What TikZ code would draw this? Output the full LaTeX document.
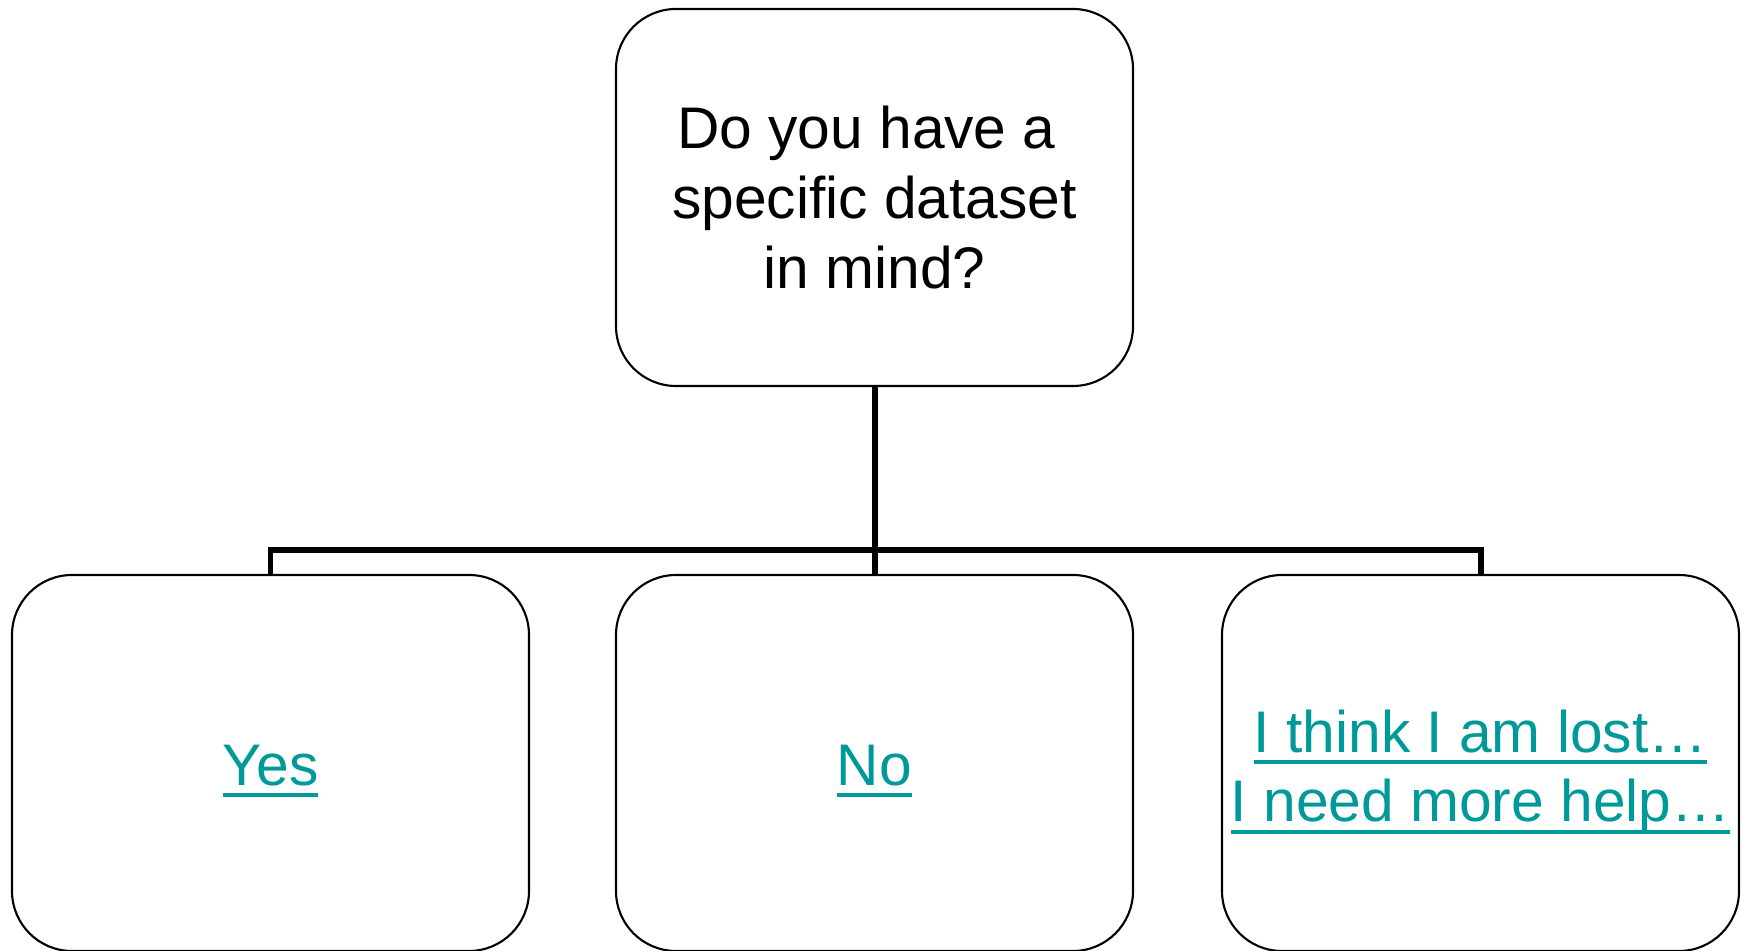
\documentclass[tikz,border=0pt]{standalone}
\usepackage{fontspec}
\setmainfont{Liberation Sans}
\definecolor{linkteal}{RGB}{0,153,153}
\newsavebox{\lnkbox}
\newcommand{\lnkul}[1]{\sbox{\lnkbox}{#1}\rlap{\rule[-3.4pt]{\wd\lnkbox}{1.1pt}}\usebox{\lnkbox}}
\begin{document}
\begin{tikzpicture}[
    box/.style={draw=black, line width=0.6pt, rounded corners=0.6cm,
      minimum width=5.17cm, minimum height=3.76cm, inner sep=0pt, align=center,
      font=\fontsize{16.7}{19.8}\selectfont},
    linktext/.style={text=linkteal, align=center,
      font=\fontsize{16.7}{19.8}\selectfont},
    branch/.style={black, line width=1.7pt}]
    \useasboundingbox (0,0) rectangle (17.47,-9.51);
    % question and the three answers
    \node [box, minimum height=3.77cm] (question) at (8.745,-1.975) {Do you have a\kern4.6pt\\specific dataset\\in mind?};
    \node [box] (yes) at (2.705,-7.63) {};
    \node [box] (no) at (8.745,-7.63) {};
    \node [box] (lost) at (14.805,-7.63) {};
    \node [linktext] (yestext) at ([yshift=-0.08cm]yes.center) {\lnkul{Yes}};
    \node [linktext] (notext) at ([yshift=-0.08cm]no.center) {\lnkul{No}};
    \node [linktext] (losttext) at ([yshift=-0.09cm]lost.center) {\lnkul{I think I am lost\dots}\\\lnkul{I need more help\dots}};
    % tree lines
    \draw [branch] (question.south) -- (no.north);
    \draw [branch] (yes.north) -- ++(0,0.24) -| (lost.north);
\end{tikzpicture}
\end{document}
